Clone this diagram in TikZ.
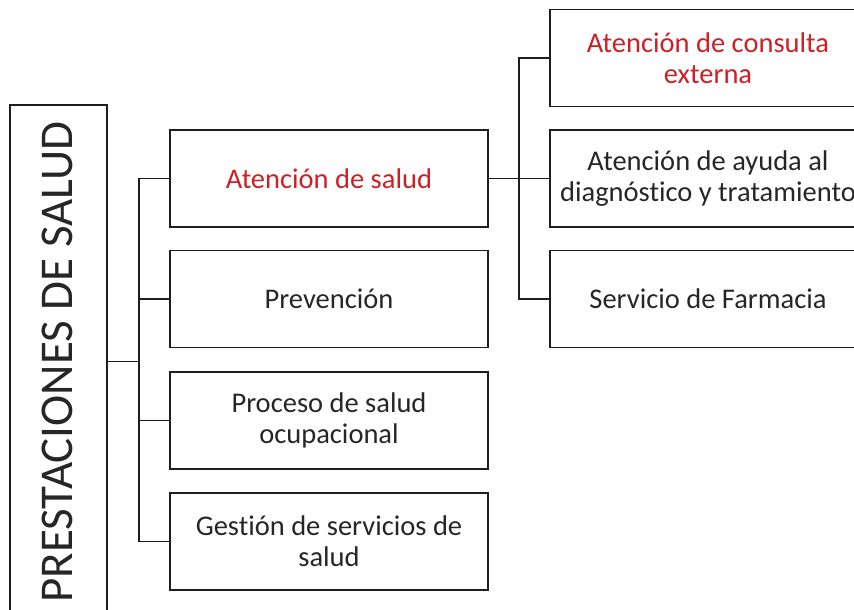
\documentclass[tikz,border=0pt]{standalone}
\usepackage{fontspec}
\setmainfont{Carlito}[Ligatures={NoCommon}]
\usepackage{tikz}
\definecolor{rojo}{RGB}{205,32,38}
\definecolor{linea}{RGB}{30,30,30}

\begin{document}
\begin{tikzpicture}[x=1pt,y=-1pt,line width=1.3pt,draw=linea,
	caja/.style={rectangle,draw=linea,minimum width=318pt,minimum height=97pt,align=center,
		font=\fontsize{28.5}{31}\selectfont,text=black!85},
	cajader/.style={caja,minimum width=316pt}]
	\useasboundingbox (0,0) rectangle (854,610);

	\node[rectangle,draw=linea,minimum width=97pt,minimum height=515pt] (main) at (58.5,362.5) {};
	\node[rotate=90,font=\fontsize{47}{50}\selectfont,text=black!85] (title) at (57,362) {PRESTACIONES DE SALUD};

	\node[caja,text=rojo] (salud) at (329,178.5) {Atención de salud};
	\node[caja] (prev) at (329,299) {Prevención};
	\node[caja] (ocup) at (329,420.5) {Proceso de salud\\ocupacional};
	\node[caja] (gest) at (329,541.5) {Gestión de servicios de\\salud};

	\node[cajader,text=rojo] (consulta) at (708,58) {Atención de consulta\\externa};
	\node[cajader] (ayuda) at (708,178.5) {Atención de ayuda al\\diagnóstico y tratamiento};
	\node[cajader] (farm) at (708,299) {Servicio de Farmacia};

	\coordinate (jL) at (139,361.5);
	\coordinate (jR) at (519,178.5);
	\draw (main.east |- jL) -- (jL);
	\foreach \n in {salud,prev,ocup,gest}
		\draw (jL) |- (\n.west);
	\draw (salud.east) -- (jR);
	\foreach \n in {consulta,ayuda,farm}
		\draw (jR) |- (\n.west);
\end{tikzpicture}
\end{document}
